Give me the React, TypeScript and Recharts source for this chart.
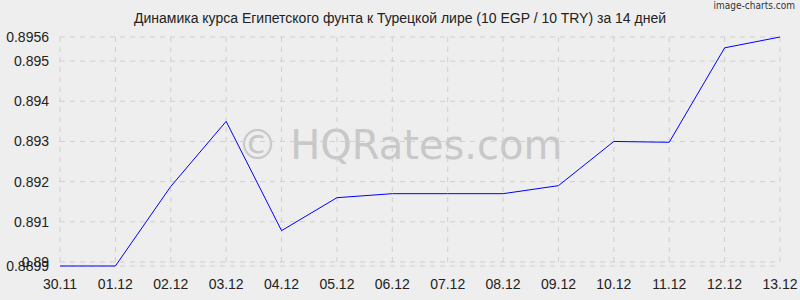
import { LineChart, Line, XAxis, YAxis, CartesianGrid } from 'recharts';

// EGP/TRY rate (10 EGP / 10 TRY), last 14 days
const dates = ['30.11', '01.12', '02.12', '03.12', '04.12', '05.12', '06.12', '07.12', '08.12', '09.12', '10.12', '11.12', '12.12', '13.12'];
const rates = [0.8899, 0.8899, 0.89188, 0.8935, 0.89078, 0.8916, 0.8917, 0.8917, 0.8917, 0.8919, 0.8930, 0.89298, 0.89533, 0.8956];
const yTicks = [0.8899, 0.89, 0.891, 0.892, 0.893, 0.894, 0.895, 0.8956];

const data = dates.map((d, i) => ({ date: d, rate: rates[i] }));

const font = '"Liberation Sans", Arial, sans-serif';

export default function App() {
  return (
    <div style={{ position: 'absolute', left: 0, top: 0, width: 800, height: 300, background: '#eeeeee', fontFamily: font }}>
      <div style={{ position: 'absolute', top: 10, left: 0, width: 800, textAlign: 'center', fontSize: 14, color: '#222' }}>
        Динамика курса Египетского фунта к Турецкой лире (10 EGP / 10 TRY) за 14 дней
      </div>
      <div style={{ position: 'absolute', top: 0, right: 5, fontSize: 10, color: '#333', fontFamily: '"DejaVu Sans Condensed", "DejaVu Sans", sans-serif' }}>
        image-charts.com
      </div>
      <div style={{ position: 'absolute', top: 122, left: 0, width: 800, textAlign: 'center', fontSize: 40, color: '#c8c8c8', fontFamily: '"DejaVu Sans", sans-serif' }}>
        © HQRates.com
      </div>
      <LineChart width={800} height={300} data={data} margin={{ top: 37, right: 20, bottom: 4, left: 0 }} style={{ position: 'absolute', left: 0, top: 0 }}>
        <CartesianGrid stroke="#cfcfcf" strokeDasharray="5 5" />
        <XAxis
          dataKey="date"
          interval={0}
          axisLine={false}
          tickLine={false}
          tickSize={0}
          tickMargin={13}
          height={30}
          tick={{ fill: '#222', fontSize: 14, fontFamily: font }}
        />
        <YAxis
          domain={[0.8899, 0.8956]}
          ticks={yTicks}
          interval={0}
          width={60}
          axisLine={false}
          tickLine={false}
          tickSize={0}
          tickMargin={11}
          tickFormatter={(v: number) => String(v)}
          tick={{ fill: '#222', fontSize: 14, fontFamily: font }}
        />
        <Line type="linear" dataKey="rate" stroke="#0000ff" strokeWidth={1} dot={false} isAnimationActive={false} />
      </LineChart>
    </div>
  );
}
